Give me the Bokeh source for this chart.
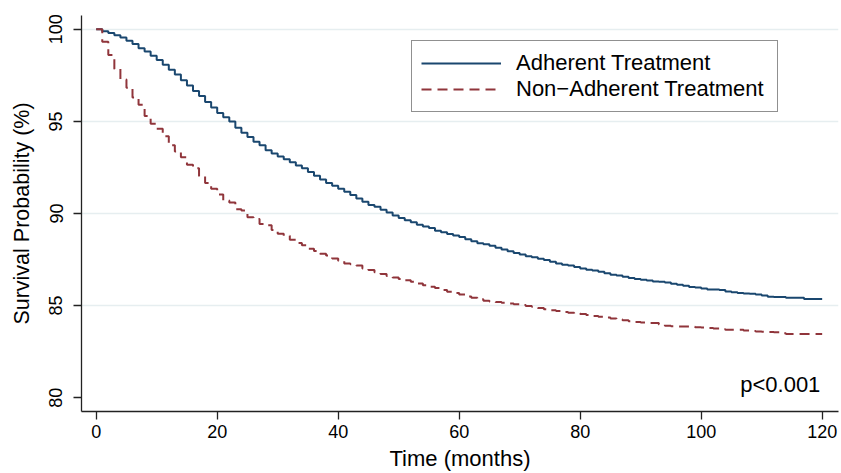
from bokeh.plotting import figure
from bokeh.models import Range1d, FixedTicker, Legend, LegendItem, Label
from bokeh.embed import file_html
from bokeh.resources import INLINE

# ---- data ----
months = list(range(0, 121))

adherent = [
    100.0, 99.9, 99.8, 99.68, 99.55, 99.38, 99.2, 98.97, 98.79, 98.56,
    98.34, 98.07, 97.81, 97.54, 97.24, 96.95, 96.65, 96.38, 96.06, 95.76,
    95.45, 95.22, 94.99, 94.65, 94.39, 94.16, 93.89, 93.71, 93.44, 93.26,
    93.09, 92.95, 92.78, 92.6, 92.46, 92.25, 92.05, 91.85, 91.65, 91.5,
    91.35, 91.18, 91.0, 90.82, 90.64, 90.46, 90.36, 90.2, 90.05, 89.89,
    89.75, 89.64, 89.52, 89.39, 89.3, 89.21, 89.07, 88.98, 88.89, 88.81,
    88.72, 88.6, 88.5, 88.38, 88.33, 88.25, 88.14, 88.04, 87.95, 87.85,
    87.77, 87.68, 87.62, 87.55, 87.47, 87.38, 87.29, 87.22, 87.17, 87.1,
    87.02, 86.95, 86.9, 86.84, 86.75, 86.68, 86.63, 86.57, 86.5, 86.44,
    86.4, 86.36, 86.31, 86.29, 86.25, 86.19, 86.13, 86.08, 86.01, 85.98,
    85.93, 85.88, 85.87, 85.84, 85.77, 85.72, 85.69, 85.66, 85.64, 85.6,
    85.55, 85.48, 85.47, 85.46, 85.42, 85.42, 85.42, 85.36, 85.36, 85.36,
    85.36,
]

non_adherent = [
    100.0, 99.32, 98.6, 97.84, 97.27, 96.83, 96.3, 95.9, 95.3, 94.87,
    94.6, 94.2, 93.7, 93.37, 93.05, 92.64, 92.46, 92.03, 91.66, 91.34,
    91.03, 90.7, 90.6, 90.23, 90.16, 89.79, 89.7, 89.43, 89.36, 89.1,
    88.9, 88.79, 88.57, 88.4, 88.27, 88.09, 87.97, 87.82, 87.72, 87.56,
    87.43, 87.29, 87.24, 87.17, 87.02, 86.93, 86.81, 86.72, 86.61, 86.52,
    86.45, 86.38, 86.3, 86.2, 86.1, 86.02, 85.95, 85.85, 85.75, 85.68,
    85.6, 85.5, 85.42, 85.34, 85.26, 85.22, 85.19, 85.15, 85.12, 85.07,
    85.03, 84.98, 84.94, 84.87, 84.8, 84.75, 84.7, 84.65, 84.61, 84.57,
    84.54, 84.49, 84.44, 84.4, 84.35, 84.3, 84.25, 84.2, 84.15, 84.11,
    84.08, 84.06, 84.05, 83.97, 83.9, 83.88, 83.87, 83.86, 83.85, 83.83,
    83.81, 83.78, 83.76, 83.72, 83.69, 83.69, 83.69, 83.65, 83.62, 83.6,
    83.58, 83.56, 83.55, 83.5, 83.46, 83.46, 83.46, 83.46, 83.46, 83.46,
    83.46,
]

series_labels = ["Adherent Treatment", "Non\u2212Adherent Treatment"]
x_ticks = [0, 20, 40, 60, 80, 100, 120]
y_ticks = [80, 85, 90, 95, 100]
grid_ticks = [85, 90, 95, 100]
p_value_text = "p<0.001"
p_value_pos = (119.7, 80.7)

FONT = "Liberation Sans"
BLUE = "#1a476f"
RED = "#90353b"

p = figure(
    width=841, height=473,
    output_backend="svg", toolbar_location=None,
    x_range=Range1d(-2.43, 122.7), y_range=Range1d(79.25, 100.75),
    min_border_left=81, min_border_right=3, min_border_top=15, min_border_bottom=56,
    background_fill_color="white", border_fill_color="white",
)
p.outline_line_color = None

r1 = p.step(months, adherent, mode="after", line_color=BLUE, line_width=2)
r2 = p.step(months, non_adherent, mode="after", line_color=RED, line_width=2,
            line_dash="10 6")

# grid
p.xgrid.grid_line_color = None
p.ygrid.ticker = FixedTicker(ticks=grid_ticks)
p.ygrid.grid_line_color = "#e6eef0"
p.ygrid.grid_line_width = 1.5

# axes
for ax in (p.xaxis[0], p.yaxis[0]):
    ax.axis_line_color = "#222222"
    ax.axis_line_width = 1.3
    ax.major_tick_line_color = "#222222"
    ax.major_tick_line_width = 1.3
    ax.major_tick_out = 8
    ax.major_tick_in = 0
    ax.minor_tick_line_color = None
    ax.major_label_text_font = FONT
    ax.major_label_text_font_size = "18px"
    ax.major_label_text_color = "black"
    ax.axis_label_text_font = FONT
    ax.axis_label_text_font_style = "normal"
    ax.axis_label_text_color = "black"

p.xaxis.axis_label_text_font_size = "22px"
p.yaxis.axis_label_text_font_size = "21.5px"
p.xaxis.ticker = FixedTicker(ticks=x_ticks)
p.yaxis.ticker = FixedTicker(ticks=y_ticks)
p.yaxis.major_label_orientation = "vertical"
p.xaxis.axis_label = "Time (months)"
p.yaxis.axis_label = "Survival Probability (%)"
p.xaxis.major_label_standoff = 5
p.xaxis.axis_label_standoff = 5
p.yaxis.major_label_standoff = 11
p.yaxis.axis_label_standoff = 13

legend = Legend(
    items=[LegendItem(label=series_labels[0], renderers=[r1]),
           LegendItem(label=series_labels[1], renderers=[r2])],
    location=(330, 299),
    label_text_font=FONT, label_text_font_size="22px", label_text_color="black",
    glyph_width=80, glyph_height=26, label_height=26, label_width=252,
    label_standoff=15, padding=9, spacing=0, margin=0,
    border_line_color="#222222", border_line_width=1,
    background_fill_color="white", background_fill_alpha=1.0,
)
p.add_layout(legend)

p.add_layout(Label(x=p_value_pos[0], y=p_value_pos[1], text=p_value_text,
                   text_align="right", text_baseline="alphabetic",
                   text_font=FONT, text_font_size="22px", text_color="black"))

open("out.html", "w").write(file_html(p, INLINE))
